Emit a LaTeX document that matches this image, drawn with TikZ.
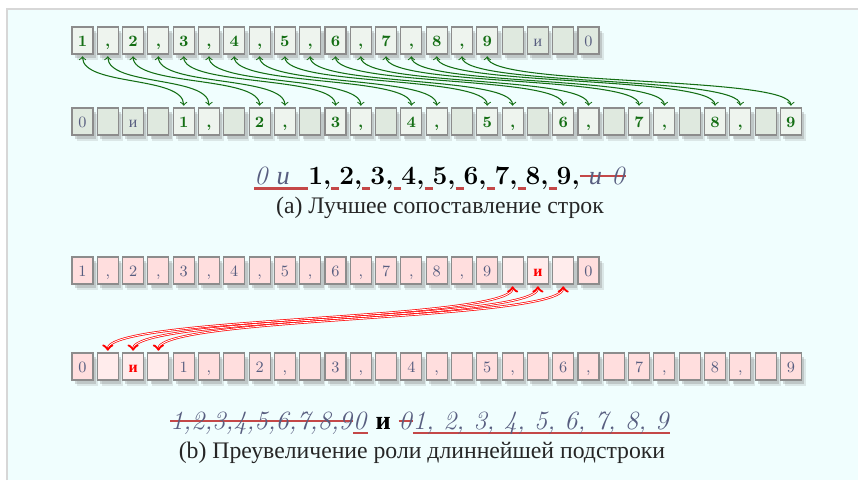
\documentclass[tikz,border=0pt]{standalone}
\usepackage{fontspec}
\newfontfamily\cyr{Liberation Serif}
\usetikzlibrary{shadows}

\definecolor{pagebg}{RGB}{240,254,254}
\definecolor{framegray}{RGB}{215,215,215}
\definecolor{gbase}{RGB}{223,233,223}
\definecolor{glight}{RGB}{238,244,238}
\definecolor{gink}{RGB}{20,110,20}
\definecolor{pbase}{RGB}{255,222,222}
\definecolor{plight}{RGB}{255,236,236}
\definecolor{inkgray}{RGB}{88,94,128}
\definecolor{markred}{RGB}{196,72,72}

\newcommand\inserted[1]{\setbox0\hbox{#1}\rlap{\color{markred}\rule[-3pt]{\wd0}{1.2pt}}\box0\relax}
\newcommand\struck[1]{\setbox0\hbox{#1}\rlap{\color{markred}\rule[0.28em]{\wd0}{1.2pt}}\box0\relax}

\tikzstyle{cell} = [rectangle, minimum width=0.42cm, minimum height=0.54cm, inner sep=0pt, text height=6.4pt, text depth=0pt, draw=black!45, line width=0.6pt, drop shadow={shadow xshift=2.6pt, shadow yshift=-3.2pt, opacity=0.18}, drop shadow={shadow xshift=1.6pt, shadow yshift=-2pt, opacity=0.3}, text=inkgray, font=\fontsize{9}{10}\selectfont]
\tikzstyle{acell} = [cell, fill=gbase]
\tikzstyle{ahit} = [cell, fill=glight, text=gink, font=\fontsize{9}{10}\selectfont\bfseries]
\tikzstyle{bcell} = [cell, fill=pbase]
\tikzstyle{bhit} = [cell, fill=plight]
\tikzstyle{bkey} = [cell, fill=plight, text=red, font=\fontsize{9}{10}\selectfont\bfseries]
\tikzstyle{garrow} = [<->, draw=gink, semithick, shorten <=1pt, shorten >=1pt]
\tikzstyle{rarrow} = [<->, draw=red, double=white, double distance=0.5pt, thin, shorten <=1pt, shorten >=1pt]
\tikzstyle{bigline} = [text=black, font=\fontsize{15}{17}\selectfont]
\tikzstyle{caption} = [text=black!85, font=\cyr\fontsize{13.5}{15}\selectfont]

\begin{document}
\begin{tikzpicture}[x=0.02cm, y=-0.02cm]
    \useasboundingbox (0,0) rectangle (858,480);
    \fill[pagebg] (7,9) rectangle (858,480);
    \draw[framegray, line width=1.2pt] (7,480) -- (7,9) -- (858,9);

    % Nodes (a)
    \foreach \k/\t [count=\i from 0] in {hit/1, hit/{,}, hit/2, hit/{,}, hit/3, hit/{,}, hit/4, hit/{,}, hit/5, hit/{,}, hit/6, hit/{,}, hit/7, hit/{,}, hit/8, hit/{,}, hit/9, cell/{}, cell/{\cyr и}, cell/{}, cell/0}
        \node[a\k] (at\i) at ({82.5+25.3*\i},40.5) {\t};
    \foreach \k/\t [count=\i from 0] in {cell/0, cell/{}, cell/{\cyr и}, cell/{}, hit/1, hit/{,}, cell/{}, hit/2, hit/{,}, cell/{}, hit/3, hit/{,}, cell/{}, hit/4, hit/{,}, cell/{}, hit/5, hit/{,}, cell/{}, hit/6, hit/{,}, cell/{}, hit/7, hit/{,}, cell/{}, hit/8, hit/{,}, cell/{}, hit/9}
        \node[a\k] (ab\i) at ({82.5+25.3*\i},121.5) {\t};

    % Arrows (a)
    \foreach \s/\e in {0/4, 1/5, 2/7, 3/8, 4/10, 5/11, 6/13, 7/14, 8/16, 9/17, 10/19, 11/20, 12/22, 13/23, 14/25, 15/26, 16/28}
        \draw[garrow] (at\s.south) .. controls +(0,32) and +(0,-32) .. (ab\e.north);

    \node[bigline] (lineA) at (440,178) {\color{inkgray}\inserted{\textit{0 {\cyr и}}\hspace{0.7em}}\color{black}\textbf{1,}\inserted{\ }\textbf{2,}\inserted{\ }\textbf{3,}\inserted{\ }\textbf{4,}\inserted{\ }\textbf{5,}\inserted{\ }\textbf{6,}\inserted{\ }\textbf{7,}\inserted{\ }\textbf{8,}\inserted{\ }\textbf{9,}\color{inkgray}\struck{\textit{ {\cyr и} 0}}};
    \node[caption] (capA) at (440,208) {(a) Лучшее сопоставление строк};

    % Nodes (b)
    \foreach \k/\t [count=\i from 0] in {cell/1, cell/{,}, cell/2, cell/{,}, cell/3, cell/{,}, cell/4, cell/{,}, cell/5, cell/{,}, cell/6, cell/{,}, cell/7, cell/{,}, cell/8, cell/{,}, cell/9, hit/{}, key/{\cyr и}, hit/{}, cell/0}
        \node[b\k] (bt\i) at ({82.5+25.3*\i},270.5) {\t};
    \foreach \k/\t [count=\i from 0] in {cell/0, hit/{}, key/{\cyr и}, hit/{}, cell/1, cell/{,}, cell/{}, cell/2, cell/{,}, cell/{}, cell/3, cell/{,}, cell/{}, cell/4, cell/{,}, cell/{}, cell/5, cell/{,}, cell/{}, cell/6, cell/{,}, cell/{}, cell/7, cell/{,}, cell/{}, cell/8, cell/{,}, cell/{}, cell/9}
        \node[b\k] (bb\i) at ({82.5+25.3*\i},366.5) {\t};

    % Arrows (b)
    \foreach \s/\e in {17/1, 18/2, 19/3}
        \draw[rarrow] (bt\s.south) .. controls +(0,36) and +(0,-36) .. (bb\e.north);

    \node[bigline] (lineB) at (420,423) {\color{inkgray}\struck{\textit{1,2,3,4,5,6,7,8,9}}\inserted{\textit{0}} {\color{black}\cyr\bfseries и} \struck{\textit{0}}\inserted{\textit{1, 2, 3, 4, 5, 6, 7, 8, 9}}};
    \node[caption] (capB) at (422,453) {(b) Преувеличение роли длиннейшей подстроки};
\end{tikzpicture}
\end{document}
